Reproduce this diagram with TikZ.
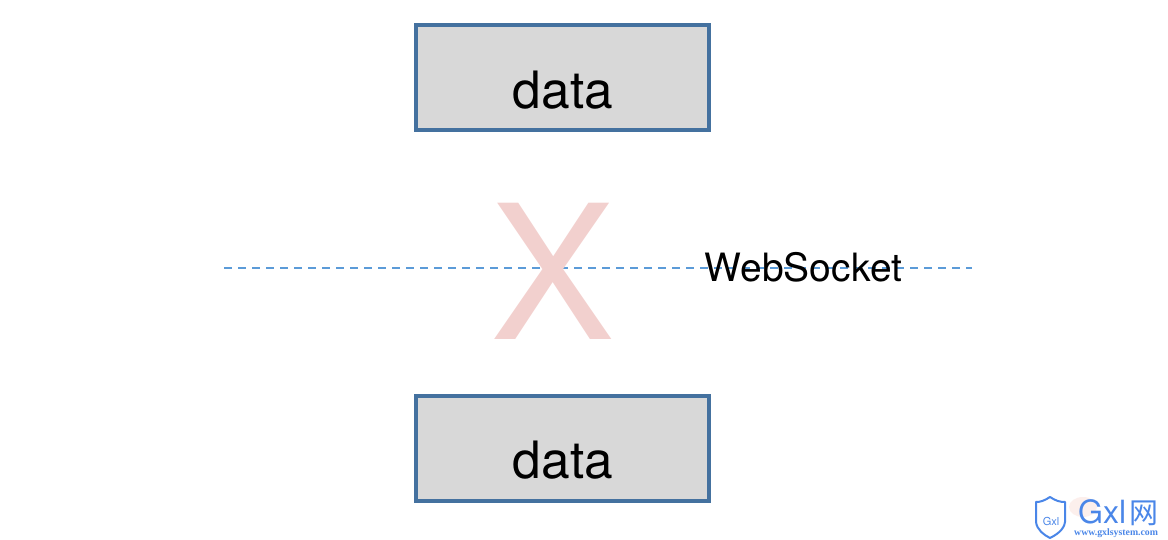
\documentclass[tikz,border=0pt]{standalone}
\usepackage{fontspec}
\setmainfont{TeX Gyre Heros}
\newfontfamily\cjkfont{Noto Sans CJK SC}
\newfontfamily\urlfont{Liberation Serif}
\definecolor{boxblue}{HTML}{44719F}
\definecolor{boxgray}{HTML}{D8D8D8}
\definecolor{lineblue}{HTML}{5B9BD8}
\definecolor{crosspink}{HTML}{F2D0CE}
\definecolor{logoblue}{HTML}{4A86E8}
\definecolor{logopink}{HTML}{FCEFEC}
\tikzset{
	databox/.style={draw=boxblue,fill=boxgray,line width=4pt,minimum width=293pt,minimum height=105pt,inner sep=0pt},
	datatext/.style={anchor=base,inner sep=0pt,font=\fontsize{51.5}{51.5}\selectfont},
}
\begin{document}
\begin{tikzpicture}[x=1pt,y=1pt,line join=miter]
	\useasboundingbox (0,0) rectangle (1168,540);
	\coordinate (lineleft) at (224,272);
	\coordinate (lineright) at (972,272);
	\draw [lineblue,line width=2pt,dash pattern=on 8pt off 6pt] (lineleft)--(lineright);
	\node [anchor=base,inner sep=0pt,text=crosspink,font=\fontsize{187}{187}\selectfont] (cross) at (553,200) {X};
	\node [anchor=base,inner sep=0pt,font=\fontsize{39}{39}\selectfont] (socket) at (803.5,258.5) {WebSocket};
	\node [databox] (boxtop) at (562.5,462.5) {};
	\node [databox] (boxbottom) at (562.5,91.5) {};
	\node [datatext] (datatop) at (563,431.5) {data};
	\node [datatext] (databottom) at (563,61.5) {data};
	\fill [logopink] (1083,33) ellipse (14 and 10);
	\draw [logoblue,line width=2pt,line join=round,fill=white] (1050,43)
		.. controls (1044,39) and (1040,38) .. (1036,38)
		-- (1036,18) .. controls (1037,10) and (1044,5) .. (1050,2)
		.. controls (1056,5) and (1064,10) .. (1065,18) -- (1065,38)
		.. controls (1060,38) and (1056,39) .. (1050,43) -- cycle;
	\node [inner sep=0pt,text=logoblue,font=\fontsize{11}{11}\selectfont] (logoinner) at (1051,19) {Gxl};
	\node [anchor=base west,inner sep=0pt,text=logoblue,font=\fontsize{32}{32}\selectfont] (logoname) at (1078,16) {Gxl};
	\node [anchor=base west,inner sep=0pt,text=logoblue,font=\cjkfont\fontsize{29}{29}\selectfont] (logonet) at (1129,16) {网};
	\node [anchor=base west,inner sep=0pt,text=logoblue,font=\urlfont\bfseries\fontsize{9.8}{9.8}\selectfont] (logourl) at (1074,4) {www.gxlsystem.com};
\end{tikzpicture}
\end{document}
